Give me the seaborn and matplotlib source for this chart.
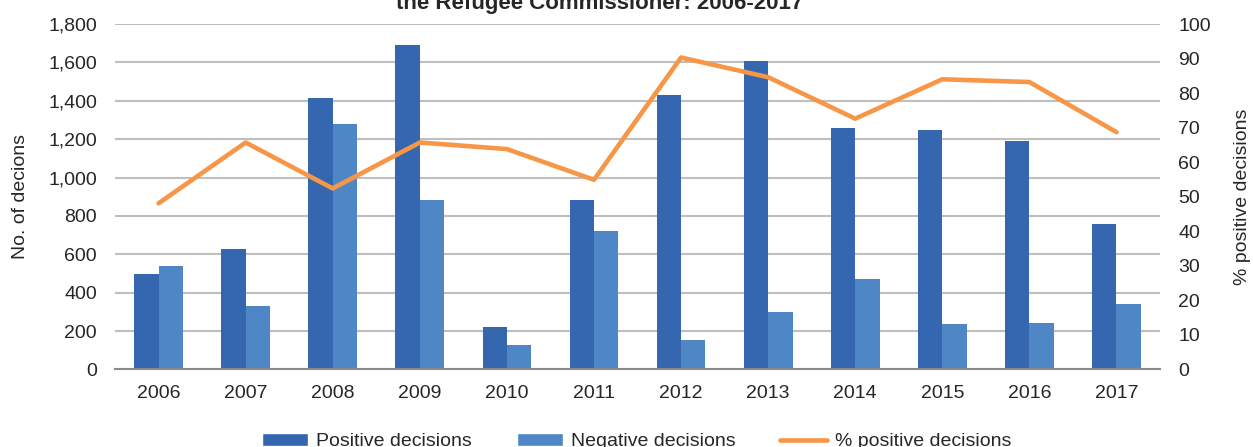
import numpy as np
import pandas as pd
import seaborn as sns
import matplotlib.pyplot as plt
from matplotlib.ticker import FixedLocator, StrMethodFormatter
from matplotlib.patches import Patch
from matplotlib.lines import Line2D

years = ['2006', '2007', '2008', '2009', '2010', '2011',
         '2012', '2013', '2014', '2015', '2016', '2017']
positive = [500, 630, 1415, 1690, 220, 882, 1430, 1605, 1258, 1250, 1190, 760]
negative = [540, 330, 1280, 882, 125, 722, 153, 297, 474, 238, 240, 342]
pct_positive = [48.1, 65.7, 52.4, 65.7, 63.8, 54.9, 90.3, 84.6, 72.6, 84.0, 83.2, 68.7]

pos_color = '#3567B1'
neg_color = '#4F87C6'
line_color = '#F79646'
grid_color = '#BFBFBF'
axis_color = '#898989'
text_color = '#262626'

df = pd.DataFrame({
    'year': years * 2,
    'count': positive + negative,
    'type': ['Positive decisions'] * len(years) + ['Negative decisions'] * len(years),
})

sns.set_style('white')
plt.rcParams['font.family'] = ['Liberation Sans', 'DejaVu Sans']
plt.rcParams['text.color'] = text_color

fig, ax = plt.subplots(figsize=(12.53, 4.47), dpi=100)
fig.subplots_adjust(left=0.0918, right=0.9258, top=0.9463, bottom=0.1734)

sns.barplot(data=df, x='year', y='count', hue='type', order=years,
            palette=[pos_color, neg_color], saturation=1, width=0.56, gap=0,
            linewidth=0, legend=False, ax=ax)

ax.set_ylim(0, 1800)
ax.set_xlim(-0.5, len(years) - 0.5)
ax.yaxis.set_major_locator(FixedLocator(np.arange(0, 1801, 200)))
ax.yaxis.set_major_formatter(StrMethodFormatter('{x:,.0f}'))
ax.set_axisbelow(True)
ax.grid(axis='y', color=grid_color, linewidth=1.5)
ax.grid(axis='x', visible=False)
for s in ['left', 'top', 'right']:
    ax.spines[s].set_visible(False)
ax.spines['bottom'].set_color(axis_color)
ax.spines['bottom'].set_linewidth(1.5)
ax.xaxis.set_minor_locator(FixedLocator(np.arange(-0.5, len(years), 1.0)))
ax.tick_params(axis='x', which='major', length=0, pad=11, labelsize=14, labelcolor=text_color)
ax.tick_params(axis='x', which='minor', length=5, width=1.5, color=axis_color, direction='out')
ax.tick_params(axis='y', length=0, pad=13, labelsize=14, labelcolor=text_color)
ax.set_xlabel('')
ax.set_ylabel('No. of decions', fontsize=14, labelpad=14, color=text_color)

ax2 = ax.twinx()
sns.lineplot(x=np.arange(len(years)), y=pct_positive, color=line_color,
             linewidth=3.3, ax=ax2)
ax2.set_ylim(0, 100)
ax2.yaxis.set_major_locator(FixedLocator(np.arange(0, 101, 10)))
ax2.grid(False)
for s in ['left', 'top', 'right', 'bottom']:
    ax2.spines[s].set_visible(False)
ax2.tick_params(axis='y', length=0, pad=13, labelsize=14, labelcolor=text_color)
ax2.set_ylabel('% positive decisions', fontsize=14, labelpad=17, color=text_color)
ax2.yaxis.set_label_position('right')

fig.text(0.479, 0.98, 'the Refugee Commissioner: 2006-2017', ha='center',
         va='baseline', fontsize=16, fontweight='bold', color=text_color)

handles = [
    Patch(facecolor=pos_color, label='Positive decisions'),
    Patch(facecolor=neg_color, label='Negative decisions'),
    Line2D([0], [0], color=line_color, linewidth=3.3, label='% positive decisions'),
]
fig.legend(handles=handles, loc='center', bbox_to_anchor=(0.508, 0.012), ncol=3,
           frameon=False, fontsize=14, handlelength=2.4, handleheight=0.7,
           handletextpad=0.4, columnspacing=2.3)

fig.savefig('out.png', dpi=100)
